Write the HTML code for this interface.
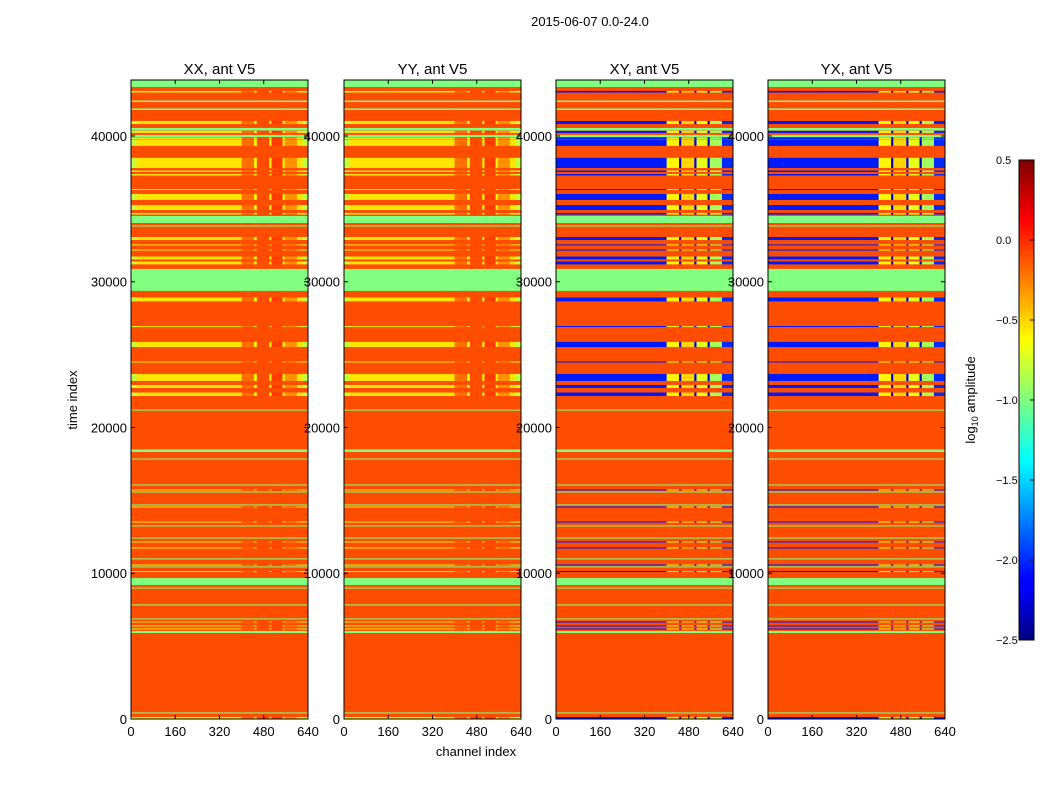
<!DOCTYPE html>
<html><head><meta charset="utf-8"><style>
body{margin:0;background:#fff;width:1050px;height:800px;overflow:hidden;font-family:"Liberation Sans",sans-serif}
</style></head><body>
<svg id="fig" width="1050" height="800" xmlns="http://www.w3.org/2000/svg" font-family="Liberation Sans, sans-serif">
<defs><linearGradient id="jet" x1="0" y1="1" x2="0" y2="0">
<stop offset="0" stop-color="#00007f"/><stop offset="0.11" stop-color="#0000ff"/><stop offset="0.125" stop-color="#0000ff"/>
<stop offset="0.375" stop-color="#00ffff"/><stop offset="0.5" stop-color="#7fff7f"/><stop offset="0.625" stop-color="#ffff00"/>
<stop offset="0.875" stop-color="#ff0000"/><stop offset="1" stop-color="#7f0000"/></linearGradient></defs>
<text x="590" y="26" font-size="13" text-anchor="middle">2015-06-07 0.0-24.0</text>
<g id="panels"></g>
<text x="476" y="756" font-size="13" text-anchor="middle">channel index</text>
<text transform="translate(77,400) rotate(-90)" font-size="13" text-anchor="middle">time index</text>
<rect x="1019" y="160" width="15" height="480" fill="url(#jet)" stroke="#000"/>
<g id="cbticks"></g>
<text transform="translate(975,400) rotate(-90)" font-size="13" text-anchor="middle">log<tspan font-size="9" dy="3">10</tspan><tspan dy="-3"> amplitude</tspan></text>
</svg>
<script>
const panelTitles=["XX, ant V5","YY, ant V5","XY, ant V5","YX, ant V5"];
const xTicks=[0,160,320,480,640];
const yTicks=[0,10000,20000,30000,40000];
const cbTicks=[0.5,0.0,-0.5,-1.0,-1.5,-2.0,-2.5];
const bandStart=[43360,42980,42330,41790,40820,40375,40210,39930,39760,39320,37800,37530,37290,36290,35610,34920,34610,34030,33790,32860,32490,32140,31530,31190,29370,28650,26890,25520,24460,23190,22710,22160,21160,18320,17800,16020,15680,15540,14650,14510,13480,13210,12380,12110,11700,10950,10530,10400,10080,9190,8950,7790,6830,6620,6350,6140,5900,380,0];
const bandEnd=[43840,43090,42430,41890,41030,40550,40350,40070,39900,39730,38500,37630,37390,36360,36020,35260,34720,34510,33860,33070,32560,32210,31730,31390,30880,28920,26960,25870,24530,23670,22920,22400,21230,18490,17870,16090,15750,15610,14720,14580,13550,13280,12450,12180,11770,11020,10600,10470,10150,9670,9020,7860,6900,6690,6420,6210,6040,450,140];
const bandKind=["g","a","g","g","a","g","a","g","a","a","a","a","a","a","a","a","a","g","g","a","a","a","a","a","g","a","a","a","a","a","a","a","g","g","g","g","a","g","g","a","a","g","g","a","a","g","a","g","a","g","g","g","g","a","a","a","g","g","a"];
const bgValue=-0.1, greenValue=-1.0;
const activeParallel=[[0,20,-0.8],[20,400,-0.55],[400,445,-0.2],[445,455,-0.6],[455,500,-0.1],[500,508,-0.6],[508,548,-0.05],[548,556,-0.6],[556,600,-0.3],[600,620,-0.55],[620,640,-0.8]];
const activeCross=[[0,400,-2.05],[400,445,-0.6],[445,453,-2.3],[453,500,-0.5],[500,508,-2.2],[508,548,-0.7],[548,556,-2.3],[556,600,-0.9],[600,640,-2.0]];
const vmin=-2.5,vmax=0.5;
function jet(v){let f=(v-vmin)/(vmax-vmin);f=Math.max(0,Math.min(1,f));
 const c=x=>Math.round(255*Math.max(0,Math.min(1,1.5-Math.abs(x))));
 return `rgb(${c(4*f-3)},${c(4*f-2)},${c(4*f-1)})`;}
const ns="http://www.w3.org/2000/svg";
function mk(tag,attrs,parent){const e=document.createElementNS(ns,tag);for(const k in attrs)e.setAttribute(k,attrs[k]);parent.appendChild(e);return e;}
const panelX=[131,344,556,768], pw=177, topY=80, botY=719, tmax=43840;
const yS=t=>botY-(t/tmax)*(botY-topY);
const panels=document.getElementById('panels');
panelX.forEach((px,pi)=>{
 const xS=c=>px+c/640*pw;
 const g=mk('g',{},panels);
 
 
 const bg=mk('rect',{x:px,y:topY,width:pw,height:botY-topY,fill:jet(bgValue)},g);
 
 
 const prof=pi<2?activeParallel:activeCross;
 for(let i=0;i<bandStart.length;i++){
  const y1=yS(bandEnd[i]),y2=yS(bandStart[i]),h=Math.max(1,y2-y1);
  if(bandKind[i]==='g'){
   const r=mk('rect',{x:px,y:y1,width:pw,height:h,fill:jet(greenValue)},g);
   
   
  } else {
   prof.forEach(s=>{
    const r=mk('rect',{x:xS(s[0]),y:y1,width:xS(s[1])-xS(s[0])+0.3,height:h,fill:jet(s[2])},g);
    
    
   });
  }
 }
 const fr=mk('rect',{x:px,y:topY,width:pw,height:botY-topY,fill:'none',stroke:'#000','stroke-width':1},g);
 
 
 const tt=mk('text',{x:px+pw/2,y:74,'font-size':15,'text-anchor':'middle'},g);tt.textContent=panelTitles[pi];
 
 
 xTicks.forEach(v=>{const x=xS(v);
  mk('line',{x1:x,x2:x,y1:botY,y2:botY-4,stroke:'#000'},g);mk('line',{x1:x,x2:x,y1:topY,y2:topY+4,stroke:'#000'},g);
  const t=mk('text',{x:x,y:736,'font-size':13,'text-anchor':'middle'},g);t.textContent=v;
  
  });
 yTicks.forEach(v=>{const y=yS(v);
  mk('line',{x1:px,x2:px+4,y1:y,y2:y,stroke:'#000'},g);mk('line',{x1:px+pw,x2:px+pw-4,y1:y,y2:y,stroke:'#000'},g);
  const t=mk('text',{x:px-4,y:y+5,'font-size':13,'text-anchor':'end'},g);t.textContent=v;
  
  });
});
const cbg=document.getElementById('cbticks');
cbTicks.forEach(v=>{const y=640-(v-vmin)/(vmax-vmin)*480;
 mk('line',{x1:1030,x2:1034,y1:y,y2:y,stroke:'#000'},cbg);
 const t=mk('text',{x:996,y:y+4,'font-size':11},cbg);t.textContent=v.toFixed(1).replace('-','\u2212');
 
 });
</script>
</body></html>
